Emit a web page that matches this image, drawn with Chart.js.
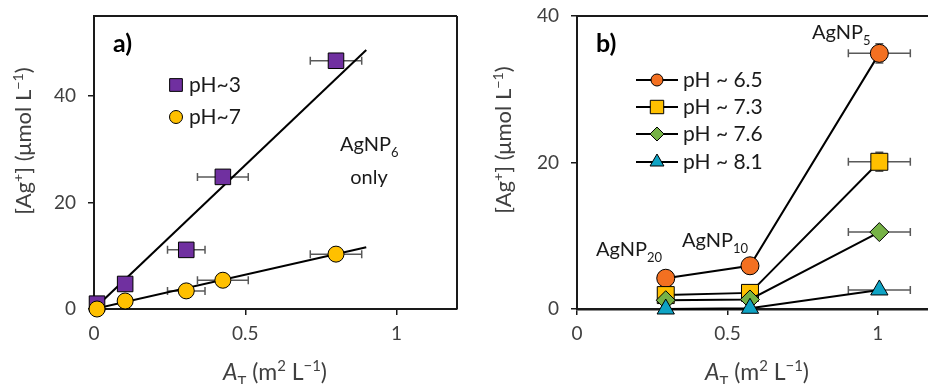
<!DOCTYPE html>
<html>
<head>
<meta charset="utf-8">
<script src="https://cdn.jsdelivr.net/npm/chart.js@4.4.1/dist/chart.umd.min.js"></script>
<style>
  html, body { margin: 0; padding: 0; background: #fff; width: 928px; height: 384px; overflow: hidden; }
  .panel { position: absolute; top: 0; width: 470px; height: 384px; }
  #wrapA { left: 0; }
  #wrapB { left: 470px; }
</style>
</head>
<body>
<div class="panel" id="wrapA"><canvas id="chartA" width="470" height="384"></canvas></div>
<div class="panel" id="wrapB"><canvas id="chartB" width="470" height="384"></canvas></div>
<script>
const FONT = "Lato, 'Open Sans', sans-serif";

// ---- panel a) ----
const aX = [0.01, 0.103, 0.305, 0.426, 0.80];
const aPH3 = [1.0, 4.7, 11.1, 24.8, 46.6];
const aPH7 = [0.0, 1.5, 3.4, 5.4, 10.3];
const aXErr = [0, 0, 0.062, 0.084, 0.085];
const fitX = [0, 0.9];
const fitPH3 = [0, 48.6];
const fitPH7 = [0, 11.6];
const aXTicks = [0, 0.5, 1];
const aYTicks = [0, 20, 40];

// ---- panel b) ----
const bX = [0.295, 0.575, 1.005];
const b65 = [4.2, 5.9, 34.9];
const b73 = [1.9, 2.2, 20.1];
const b76 = [1.2, 1.3, 10.5];
const b81 = [0.0, 0.1, 2.6];
const bXErr = [0, 0, 0.103];
const bYErr = [0, 0, 1.3];
const bXTicks = [0, 0.5, 1];
const bYTicks = [0, 20, 40];

const pts = (xs, ys) => xs.map((x, i) => ({ x: x, y: ys[i] }));

// draws text made of pieces: [text, kind] where kind = n / i / b / sub / sup
function drawRich(ctx, segs, x, y, size, align, color) {
  const parts = segs.map(([t, k]) => {
    const small = k === 'sub' || k === 'sup';
    const fs = small ? size * 0.65 : size;
    const font = (k === 'i' ? 'italic ' : k === 'b' ? 'bold ' : '') + fs + 'px ' + FONT;
    ctx.font = font;
    return { t, font, w: ctx.measureText(t).width, dy: k === 'sub' ? size * 0.32 : k === 'sup' ? -size * 0.38 : 0 };
  });
  const total = parts.reduce((s, p) => s + p.w, 0);
  let cx = align === 'center' ? x - total / 2 : x;
  ctx.textAlign = 'left';
  ctx.textBaseline = 'alphabetic';
  ctx.fillStyle = color || '#262626';
  parts.forEach(p => { ctx.font = p.font; ctx.fillText(p.t, cx, y + p.dy); cx += p.w; });
}

function marker(ctx, style, r, x, y, fill) {
  ctx.save();
  ctx.fillStyle = fill;
  ctx.strokeStyle = '#000';
  ctx.lineWidth = 1;
  Chart.helpers.drawPoint(ctx, { pointStyle: style, radius: r, rotation: 0, borderWidth: 1 }, x, y);
  ctx.restore();
}

const yTitle = [['[Ag', 'n'], ['+', 'sup'], ['] (μmol L', 'n'], ['−1', 'sup'], [')', 'n']];
const xTitle = [['A', 'i'], ['T', 'sub'], [' (m', 'n'], ['2', 'sup'], [' L', 'n'], ['−1', 'sup'], [')', 'n']];

const extrasByChart = {
  chartA: {
    errors: [
      { xs: aX, ys: aPH3, xErr: aXErr },
      { xs: aX, ys: aPH7, xErr: aXErr }
    ],
    frame: { top: true, right: true },
    yTitle: { x: 31, y: 141 },
    xTitle: { x: 275, y: 380 },
    label: { text: 'a)', x: 113, y: 52 },
    texts: [
      { segs: [['AgNP', 'n'], ['6', 'sub']], x: 340, y: 151, align: 'left' },
      { segs: [['only', 'n']], x: 369, y: 184, align: 'center' }
    ],
    legend: [
      { style: 'rect', r: 9, fill: '#7030A0', text: 'pH~3', x: 176, y: 85, tx: 189, line: false },
      { style: 'circle', r: 6.5, fill: '#FFC000', text: 'pH~7', x: 176, y: 117, tx: 189, line: false }
    ]
  },
  chartB: {
    errors: [
      { xs: bX, ys: b65, xErr: bXErr, yErr: bYErr },
      { xs: bX, ys: b73, xErr: bXErr, yErr: bYErr },
      { xs: bX, ys: b76, xErr: bXErr },
      { xs: bX, ys: b81, xErr: bXErr }
    ],
    frame: { top: true, right: false },
    yTitle: { x: 41, y: 140 },
    xTitle: { x: 287, y: 380 },
    label: { text: 'b)', x: 126, y: 52 },
    texts: [
      { segs: [['AgNP', 'n'], ['5', 'sub']], x: 342, y: 39, align: 'left' },
      { segs: [['AgNP', 'n'], ['20', 'sub']], x: 126, y: 256, align: 'left' },
      { segs: [['AgNP', 'n'], ['10', 'sub']], x: 212, y: 247, align: 'left' }
    ],
    legend: [
      { style: 'circle', r: 6, fill: '#F37021', text: 'pH ~ 6.5', x: 187, y: 80, tx: 213, line: true },
      { style: 'rect', r: 9.5, fill: '#FFC000', text: 'pH ~ 7.3', x: 187, y: 107, tx: 213, line: true },
      { style: 'rectRot', r: 7, fill: '#76B246', text: 'pH ~ 7.6', x: 187, y: 134, tx: 213, line: true },
      { style: 'triangle', r: 8, fill: '#0FA3C4', text: 'pH ~ 8.1', x: 187, y: 162, tx: 213, line: true }
    ]
  }
};

const extras = {
  id: 'extras',
  beforeDatasetsDraw(chart) {
    const cfg = extrasByChart[chart.canvas.id];
    const ctx = chart.ctx, xs = chart.scales.x, ys = chart.scales.y;
    ctx.save();
    ctx.strokeStyle = '#595959';
    ctx.lineWidth = 1.5;
    cfg.errors.forEach(e => {
      e.xs.forEach((x, i) => {
        const py = ys.getPixelForValue(e.ys[i]);
        const px = xs.getPixelForValue(x);
        if (e.xErr && e.xErr[i] > 0) {
          const x1 = xs.getPixelForValue(x - e.xErr[i]);
          const x2 = xs.getPixelForValue(x + e.xErr[i]);
          ctx.beginPath();
          ctx.moveTo(x1, py); ctx.lineTo(x2, py);
          ctx.moveTo(x1, py - 4); ctx.lineTo(x1, py + 4);
          ctx.moveTo(x2, py - 4); ctx.lineTo(x2, py + 4);
          ctx.stroke();
        }
        if (e.yErr && e.yErr[i] > 0) {
          const y1 = ys.getPixelForValue(e.ys[i] - e.yErr[i]);
          const y2 = ys.getPixelForValue(e.ys[i] + e.yErr[i]);
          ctx.beginPath();
          ctx.moveTo(px, y1); ctx.lineTo(px, y2);
          ctx.moveTo(px - 4, y1); ctx.lineTo(px + 4, y1);
          ctx.moveTo(px - 4, y2); ctx.lineTo(px + 4, y2);
          ctx.stroke();
        }
      });
    });
    ctx.restore();
  },
  afterDraw(chart) {
    const cfg = extrasByChart[chart.canvas.id];
    const ctx = chart.ctx, a = chart.chartArea;
    ctx.save();
    // frame
    ctx.strokeStyle = '#1a1a1a';
    ctx.lineWidth = 2;
    ctx.beginPath();
    if (cfg.frame.top) { ctx.moveTo(a.left, a.top); ctx.lineTo(a.right, a.top); }
    if (cfg.frame.right) { ctx.moveTo(a.right, a.top); ctx.lineTo(a.right, a.bottom); }
    ctx.stroke();
    // x tick labels (drawn here so they don't add padding to the layout)
    const xs = chart.scales.x;
    ctx.font = '19px ' + FONT;
    ctx.fillStyle = '#404040';
    ctx.textAlign = 'center';
    ctx.textBaseline = 'top';
    xs.ticks.forEach(t => ctx.fillText(String(t.value), xs.getPixelForValue(t.value), a.bottom + 15));
    // axis titles
    drawRich(ctx, xTitle, cfg.xTitle.x, cfg.xTitle.y, 23, 'center', '#404040');
    ctx.save();
    ctx.translate(cfg.yTitle.x, cfg.yTitle.y);
    ctx.rotate(-Math.PI / 2);
    drawRich(ctx, yTitle, 0, 0, 22, 'center', '#404040');
    ctx.restore();
    // panel label
    drawRich(ctx, [[cfg.label.text, 'b']], cfg.label.x, cfg.label.y, 25, 'left', '#000');
    // annotations
    cfg.texts.forEach(t => drawRich(ctx, t.segs, t.x, t.y, 20, t.align, '#1a1a1a'));
    // legend
    cfg.legend.forEach(l => {
      if (l.line) {
        ctx.strokeStyle = '#000';
        ctx.lineWidth = 2;
        ctx.beginPath();
        ctx.moveTo(l.x - 21, l.y); ctx.lineTo(l.x + 21, l.y);
        ctx.stroke();
      }
      marker(ctx, l.style, l.r, l.x, l.y, l.fill);
      drawRich(ctx, [[l.text, 'n']], l.tx, l.y + 7, 21, 'left', '#1a1a1a');
    });
    ctx.restore();
  }
};

function axis(min, max, ticks, fit, isX, borderW) {
  return {
    type: 'linear',
    min: min,
    max: max,
    afterBuildTicks: s => { s.ticks = ticks.map(v => ({ value: v })); },
    afterFit: s => {
      if (isX) { s.height = fit; s.paddingLeft = 0; s.paddingRight = 0; }
      else { s.width = fit; s.paddingTop = 0; s.paddingBottom = 0; }
    },
    ticks: {
      display: !isX,
      font: { family: FONT, size: 19 },
      color: '#404040',
      padding: isX ? 0 : 12,
      callback: v => String(v)
    },
    grid: { drawOnChartArea: false, drawTicks: true, tickLength: 6, color: '#1a1a1a', lineWidth: 1.5 },
    border: { display: true, color: '#1a1a1a', width: borderW }
  };
}

const baseOpts = {
  responsive: false,
  animation: false,
  plugins: { legend: { display: false }, tooltip: { enabled: false } }
};

const markerDs = (label, xs, ys, style, r, fill, extra) => Object.assign({
  label: label,
  data: pts(xs, ys),
  pointStyle: style,
  pointRadius: r,
  pointBackgroundColor: fill,
  pointBorderColor: '#000',
  pointBorderWidth: 1,
  borderColor: '#000',
  borderWidth: 2,
  showLine: false,
  clip: false
}, extra || {});

new Chart(document.getElementById('chartA'), {
  type: 'scatter',
  data: {
    datasets: [
      markerDs('pH~7', aX, aPH7, 'circle', 8, '#FFC000'),
      markerDs('pH~3', aX, aPH3, 'rect', 11, '#7030A0'),
      { label: 'fit pH~3', data: pts(fitX, fitPH3), showLine: true, borderColor: '#000', borderWidth: 2, pointRadius: 0 },
      { label: 'fit pH~7', data: pts(fitX, fitPH7), showLine: true, borderColor: '#000', borderWidth: 2, pointRadius: 0 }
    ]
  },
  options: Object.assign({}, baseOpts, {
    layout: { autoPadding: false, padding: { top: 16, right: 13, left: 0, bottom: 0 } },
    scales: {
      x: axis(0, 1.2, aXTicks, 75, true, 2),
      y: axis(0, 55, aYTicks, 94, false, 2)
    }
  }),
  plugins: [extras]
});

new Chart(document.getElementById('chartB'), {
  type: 'scatter',
  data: {
    datasets: [
      markerDs('pH ~ 6.5', bX, b65, 'circle', 9, '#F37021', { showLine: true, order: 4 }),
      markerDs('pH ~ 7.3', bX, b73, 'rect', 12, '#FFC000', { showLine: true, order: 3 }),
      markerDs('pH ~ 7.6', bX, b76, 'rectRot', 9.5, '#76B246', { showLine: true, order: 2 }),
      markerDs('pH ~ 8.1', bX, b81, 'triangle', 10, '#0FA3C4', { showLine: true, order: 1 })
    ]
  },
  options: Object.assign({}, baseOpts, {
    layout: { autoPadding: false, padding: { top: 16, right: 2, left: 0, bottom: 0 } },
    scales: {
      x: axis(0, 1.2, bXTicks, 75, true, 2.5),
      y: axis(0, 40, bYTicks, 107, false, 2)
    }
  }),
  plugins: [extras]
});
</script>
</body>
</html>
